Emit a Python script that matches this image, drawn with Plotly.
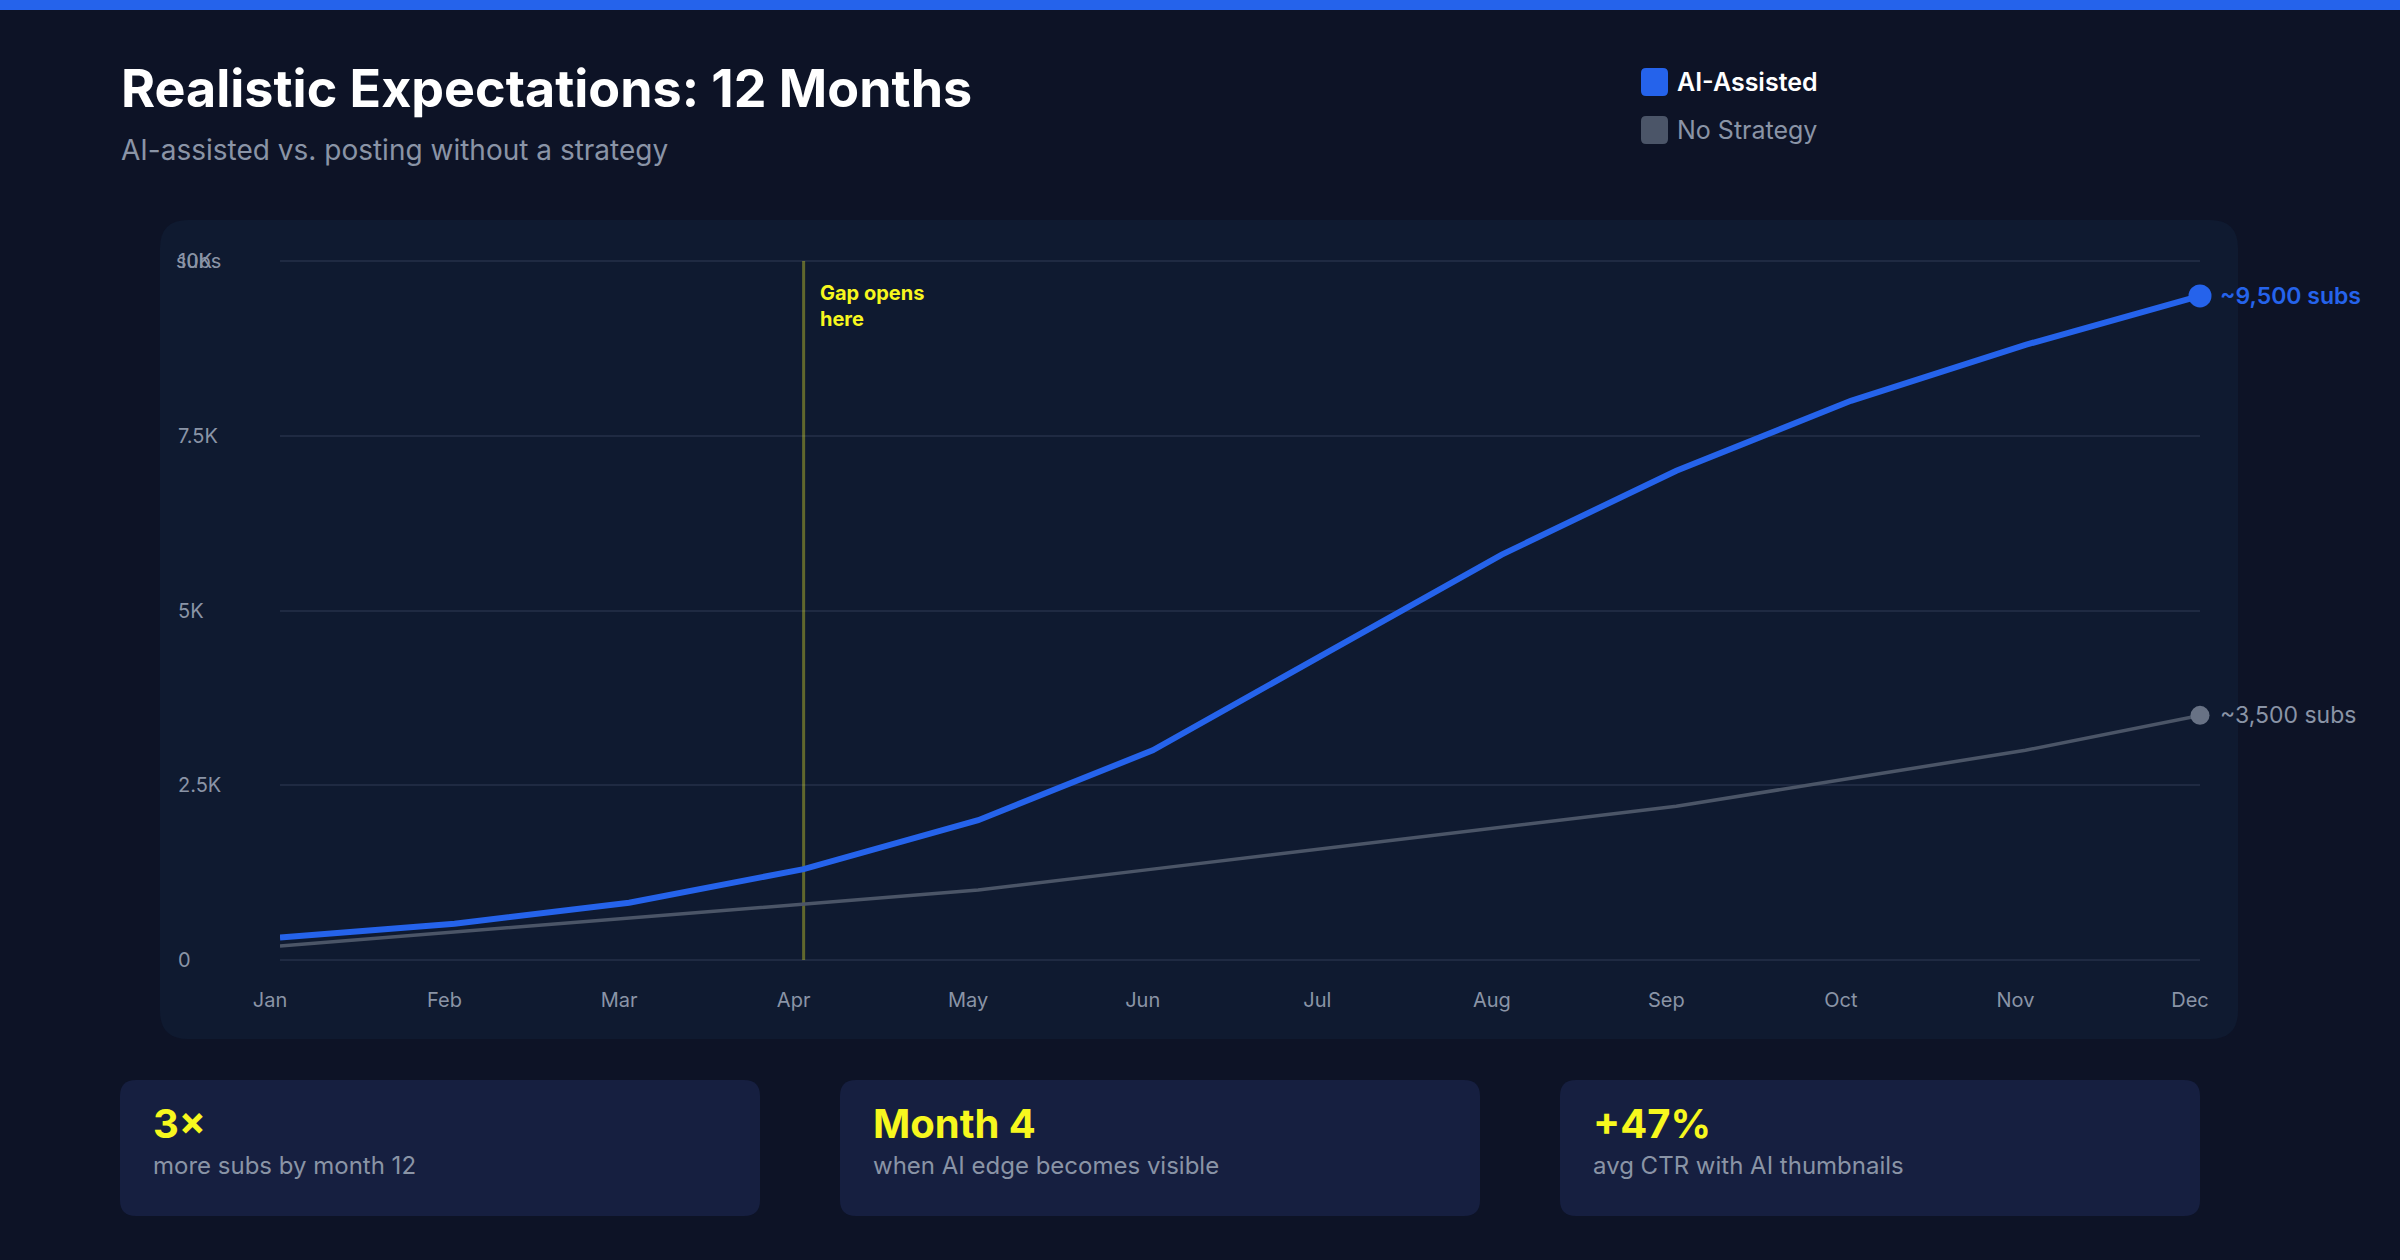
import plotly.graph_objects as go

months = ["Jan", "Feb", "Mar", "Apr", "May", "Jun", "Jul", "Aug", "Sep", "Oct", "Nov", "Dec"]
ai_assisted = [320, 520, 820, 1300, 2000, 3000, 4400, 5800, 7000, 8000, 8800, 9500]
no_strategy = [200, 400, 600, 800, 1000, 1300, 1600, 1900, 2200, 2600, 3000, 3500]
y_ticks = [0, 2500, 5000, 7500, 10000]
y_tick_text = ["0", "2.5K", "5K", "7.5K", "10K"]
gap_month = "Apr"

cards = [
    ("3×", "more subs by month 12"),
    ("Month 4", "when AI edge becomes visible"),
    ("+47%", "avg CTR with AI thumbnails"),
]

BG = "#0d1326"
PANEL = "#0f1a30"
CARD = "#161f40"
BLUE = "#2563eb"
GRAY_LINE = "#4b5567"
GRAY_DOT = "#687285"
MUTED = "#8a94a6"
YELLOW = "#f7f71e"
FONT = "Inter"

W, H = 2400, 1260
# plot area padded 20px above 10K and below 0 so the edge tick labels are kept
PAD = 20
L, R, T, B = 177, 200, 261 - PAD, 300 - PAD
PW, PH = W - L - R, H - T - B
Y_PAD = PAD * 10000 / 699


# pixel -> paper helpers
def px(x):
    return (x - L) / PW


def py(y):
    return (H - B - y) / PH


def rounded(x0, y0, x1, y1, r):
    # rounded rectangle in paper coords, built from pixel values
    pts = [
        f"M {px(x0 + r)},{py(y0)}",
        f"L {px(x1 - r)},{py(y0)}",
        f"Q {px(x1)},{py(y0)} {px(x1)},{py(y0 + r)}",
        f"L {px(x1)},{py(y1 - r)}",
        f"Q {px(x1)},{py(y1)} {px(x1 - r)},{py(y1)}",
        f"L {px(x0 + r)},{py(y1)}",
        f"Q {px(x0)},{py(y1)} {px(x0)},{py(y1 - r)}",
        f"L {px(x0)},{py(y0 + r)}",
        f"Q {px(x0)},{py(y0)} {px(x0 + r)},{py(y0)}",
        "Z",
    ]
    return " ".join(pts)


fig = go.Figure()

# marker line for where the gap opens
fig.add_trace(go.Scatter(
    x=[gap_month, gap_month], y=[y_ticks[0], y_ticks[-1]], mode="lines",
    line=dict(color="rgba(250,250,40,0.35)", width=3), hoverinfo="skip", showlegend=False,
))

fig.add_trace(go.Scatter(
    x=months, y=no_strategy, mode="lines", name="No Strategy",
    line=dict(color=GRAY_LINE, width=3.5), cliponaxis=False, showlegend=False,
))
fig.add_trace(go.Scatter(
    x=months, y=ai_assisted, mode="lines", name="AI-Assisted",
    line=dict(color=BLUE, width=6), cliponaxis=False, showlegend=False,
))
# end dots
fig.add_trace(go.Scatter(
    x=[months[-1]], y=[no_strategy[-1]], mode="markers",
    marker=dict(color=GRAY_DOT, size=19), cliponaxis=False, showlegend=False,
))
fig.add_trace(go.Scatter(
    x=[months[-1]], y=[ai_assisted[-1]], mode="markers",
    marker=dict(color=BLUE, size=23), cliponaxis=False, showlegend=False,
))

shapes = [
    # top accent bar
    dict(type="rect", xref="paper", yref="paper", x0=px(0), x1=px(W), y0=py(0), y1=py(10),
         fillcolor=BLUE, line=dict(width=0), layer="below"),
    # chart panel
    dict(type="path", xref="paper", yref="paper", path=rounded(160, 220, 2238, 1039, 28),
         fillcolor=PANEL, line=dict(width=0), layer="below"),
    # legend swatches
    dict(type="path", xref="paper", yref="paper", path=rounded(1641, 68, 1668, 96, 5),
         fillcolor=BLUE, line=dict(width=0)),
    dict(type="path", xref="paper", yref="paper", path=rounded(1641, 116, 1668, 144, 5),
         fillcolor="#4b5568", line=dict(width=0)),
]

annotations = [
    dict(text="<b>Realistic Expectations: 12 Months</b>", xref="paper", yref="paper",
         x=px(119), y=py(88), xanchor="left", yanchor="middle", showarrow=False,
         font=dict(family=FONT, size=52, color="#ffffff")),
    dict(text="AI-assisted vs. posting without a strategy", xref="paper", yref="paper",
         x=px(119), y=py(150), xanchor="left", yanchor="middle", showarrow=False,
         font=dict(family=FONT, size=28, color=MUTED)),
    dict(text="AI-Assisted", xref="paper", yref="paper", x=px(1675), y=py(82),
         xanchor="left", yanchor="middle", showarrow=False,
         font=dict(family=FONT, size=25, color="#ffffff", weight=600)),
    dict(text="No Strategy", xref="paper", yref="paper", x=px(1675), y=py(130),
         xanchor="left", yanchor="middle", showarrow=False,
         font=dict(family=FONT, size=25, color=MUTED)),
    # axis unit label sitting on top of the 10K tick
    dict(text="subs", xref="paper", yref="y", x=px(174), y=y_ticks[-1],
         xanchor="left", yanchor="middle", showarrow=False,
         font=dict(family=FONT, size=20, color=MUTED)),
    dict(text="<b>Gap opens<br>here</b>", xref="x", yref="y", x=gap_month, y=y_ticks[-1],
         xanchor="left", yanchor="top", xshift=14, yshift=-18, align="left", showarrow=False,
         font=dict(family=FONT, size=20, color=YELLOW)),
    dict(text="~9,500 subs", xref="x", yref="y", x=months[-1], y=ai_assisted[-1],
         xanchor="left", yanchor="middle", xshift=18, showarrow=False,
         font=dict(family=FONT, size=23, color=BLUE, weight=600)),
    dict(text="~3,500 subs", xref="x", yref="y", x=months[-1], y=no_strategy[-1],
         xanchor="left", yanchor="middle", xshift=18, showarrow=False,
         font=dict(family=FONT, size=23, color=MUTED)),
]

card_boxes = [(120, 760), (840, 1480), (1560, 2200)]
for (big, small), (cx0, cx1) in zip(cards, card_boxes):
    shapes.append(dict(type="path", xref="paper", yref="paper", path=rounded(cx0, 1080, cx1, 1216, 16),
                       fillcolor=CARD, line=dict(width=0), layer="below"))
    annotations.append(dict(text=f"<b>{big}</b>", xref="paper", yref="paper", x=px(cx0 + 31), y=py(1123),
                            xanchor="left", yanchor="middle", showarrow=False,
                            font=dict(family=FONT, size=40, color=YELLOW)))
    annotations.append(dict(text=small, xref="paper", yref="paper", x=px(cx0 + 31), y=py(1165),
                            xanchor="left", yanchor="middle", showarrow=False,
                            font=dict(family=FONT, size=24, color=MUTED)))

fig.update_layout(
    width=W, height=H,
    margin=dict(l=L, r=R, t=T, b=B),
    paper_bgcolor=BG, plot_bgcolor="rgba(0,0,0,0)",
    font=dict(family=FONT, color=MUTED),
    shapes=shapes, annotations=annotations,
    hovermode=False,
    xaxis=dict(
        type="category", categoryorder="array", categoryarray=months,
        range=[0, len(months) - 1], domain=[px(280), 1],
        showgrid=False, zeroline=False, showline=False, ticks="",
        tickfont=dict(family=FONT, size=20, color=MUTED),
        ticklabelstandoff=26 - PAD, ticklabelshift=-10,
    ),
    yaxis=dict(
        range=[-Y_PAD, 10000 + Y_PAD], anchor="free", position=0,
        tickvals=y_ticks, ticktext=y_tick_text,
        ticklabelposition="inside", ticks="", ticklabelstandoff=-3,
        showgrid=True, gridcolor="#1f2a42", gridwidth=2,
        zeroline=False, showline=False,
        tickfont=dict(family=FONT, size=20, color=MUTED),
    ),
)

fig.write_html("out.html", config={"displayModeBar": False},
               post_script="document.body.style.margin='0';")
